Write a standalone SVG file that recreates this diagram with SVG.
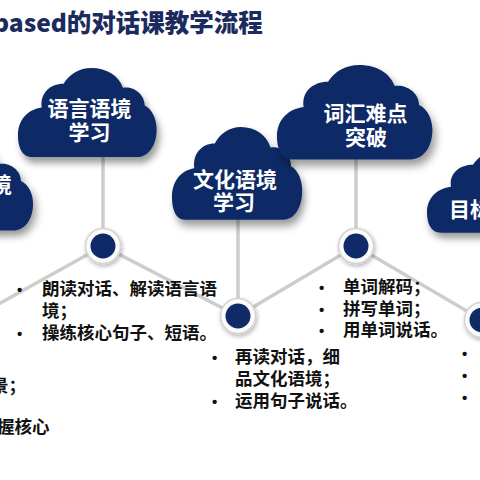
<svg xmlns="http://www.w3.org/2000/svg" xmlns:xlink="http://www.w3.org/1999/xlink" width="480" height="480" viewBox="0 0 480 480">
<defs>
<style>
.title{font-family:"Noto Sans CJK SC","Noto Sans",sans-serif;font-weight:900;font-size:24.5px;fill:#1c2b5e}
.ct{font-family:"Noto Sans CJK SC",sans-serif;font-weight:700;font-size:21px;fill:#fff;text-anchor:middle}
.bt{font-family:"Noto Sans CJK SC",sans-serif;font-weight:700;font-size:17.5px;fill:#111}
.dot{font-family:"Liberation Sans",sans-serif;font-weight:700;font-size:15px;fill:#111}
.cloud{fill:#0f2a66}
.conn{stroke:#cdcdcd;stroke-width:3.5;fill:none;stroke-linecap:round}
.ring{fill:#fbfbfb;stroke:#d4d4d4;stroke-width:1.5}
.core{fill:#0f2a66}
</style>
<filter id="sh" x="-30%" y="-30%" width="160%" height="170%">
<feDropShadow dx="3" dy="6" stdDeviation="4" flood-color="#000" flood-opacity="0.4"/>
</filter>
<filter id="nsh" x="-50%" y="-50%" width="200%" height="200%">
<feDropShadow dx="1" dy="2" stdDeviation="2" flood-color="#000" flood-opacity="0.3"/>
</filter>
<path id="cl" d="M14,90 C4,90 0,80 0,68 C0,52 10,42 24,40 C22,26 32,16 46,16 C52,6 62,0 74,0 C90,0 102,8 106,20 C116,18 128,26 128,38 C136,42 140,52 140,62 C140,78 132,90 120,90 Z"/>
<g id="node">
<circle r="17.5" class="ring" filter="url(#nsh)"/>
<circle r="12.5" class="core"/>
</g>
</defs>
<rect width="480" height="480" fill="#ffffff"/>
<text class="title" x="-7" y="32">based的对话课教学流程</text>
<g id="connectors">
<polyline class="conn" points="-5,306 103,246 238,316 356,246 482,320"/>
<line class="conn" x1="103" y1="150" x2="103" y2="246"/>
<line class="conn" x1="238" y1="210" x2="238" y2="316"/>
<line class="conn" x1="356" y1="150" x2="356" y2="246"/>
</g>
<g id="stage0">
<use xlink:href="#cl" class="cloud" filter="url(#sh)" transform="translate(-107,145) scale(1,0.95)"/>
<text class="ct" x="-9" y="192" style="text-anchor:start">境</text>
<text class="bt" x="-9" y="392">景；</text>
<text class="bt" x="-3" y="433">握核心</text>
</g>
<g id="stage1">
<use xlink:href="#cl" class="cloud" filter="url(#sh)" transform="translate(18,68) scale(0.99,0.99)"/>
<text class="ct" x="89.5" y="115.5">语言语境</text>
<text class="ct" x="89.5" y="140">学习</text>
<use xlink:href="#node" x="103" y="246"/>
<text class="dot" x="17" y="295">•</text>
<text class="bt" x="42" y="295">朗读对话、解读语言语</text>
<text class="bt" x="42" y="317">境；</text>
<text class="dot" x="17" y="339">•</text>
<text class="bt" x="42" y="339">操练核心句子、短语。</text>
</g>
<g id="stage2">
<use xlink:href="#cl" class="cloud" filter="url(#sh)" transform="translate(172,127) scale(0.93,1.03)"/>
<text class="ct" x="235" y="187">文化语境</text>
<text class="ct" x="234" y="210">学习</text>
<use xlink:href="#node" x="238" y="316"/>
<text class="dot" x="212" y="363">•</text>
<text class="bt" x="235" y="363">再读对话，细</text>
<text class="bt" x="235" y="385">品文化语境；</text>
<text class="dot" x="212" y="407">•</text>
<text class="bt" x="235" y="407">运用句子说话。</text>
</g>
<g id="stage3">
<use xlink:href="#cl" class="cloud" filter="url(#sh)" transform="translate(277,65) scale(1.11,1.05)"/>
<text class="ct" x="365.5" y="121">词汇难点</text>
<text class="ct" x="366" y="145">突破</text>
<use xlink:href="#node" x="356" y="246"/>
<text class="dot" x="319" y="293">•</text>
<text class="bt" x="343" y="293">单词解码；</text>
<text class="dot" x="319" y="315">•</text>
<text class="bt" x="343" y="315">拼写单词；</text>
<text class="dot" x="319" y="336">•</text>
<text class="bt" x="343" y="336">用单词说话。</text>
</g>
<g id="stage4">
<use xlink:href="#cl" class="cloud" filter="url(#sh)" transform="translate(427,150) scale(1,0.92)"/>
<text class="ct" x="449" y="217" style="text-anchor:start">目标</text>
<use xlink:href="#node" x="482" y="320"/>
<text class="dot" x="462" y="359">•</text>
<text class="dot" x="462" y="381">•</text>
<text class="dot" x="462" y="403">•</text>
</g>
</svg>
